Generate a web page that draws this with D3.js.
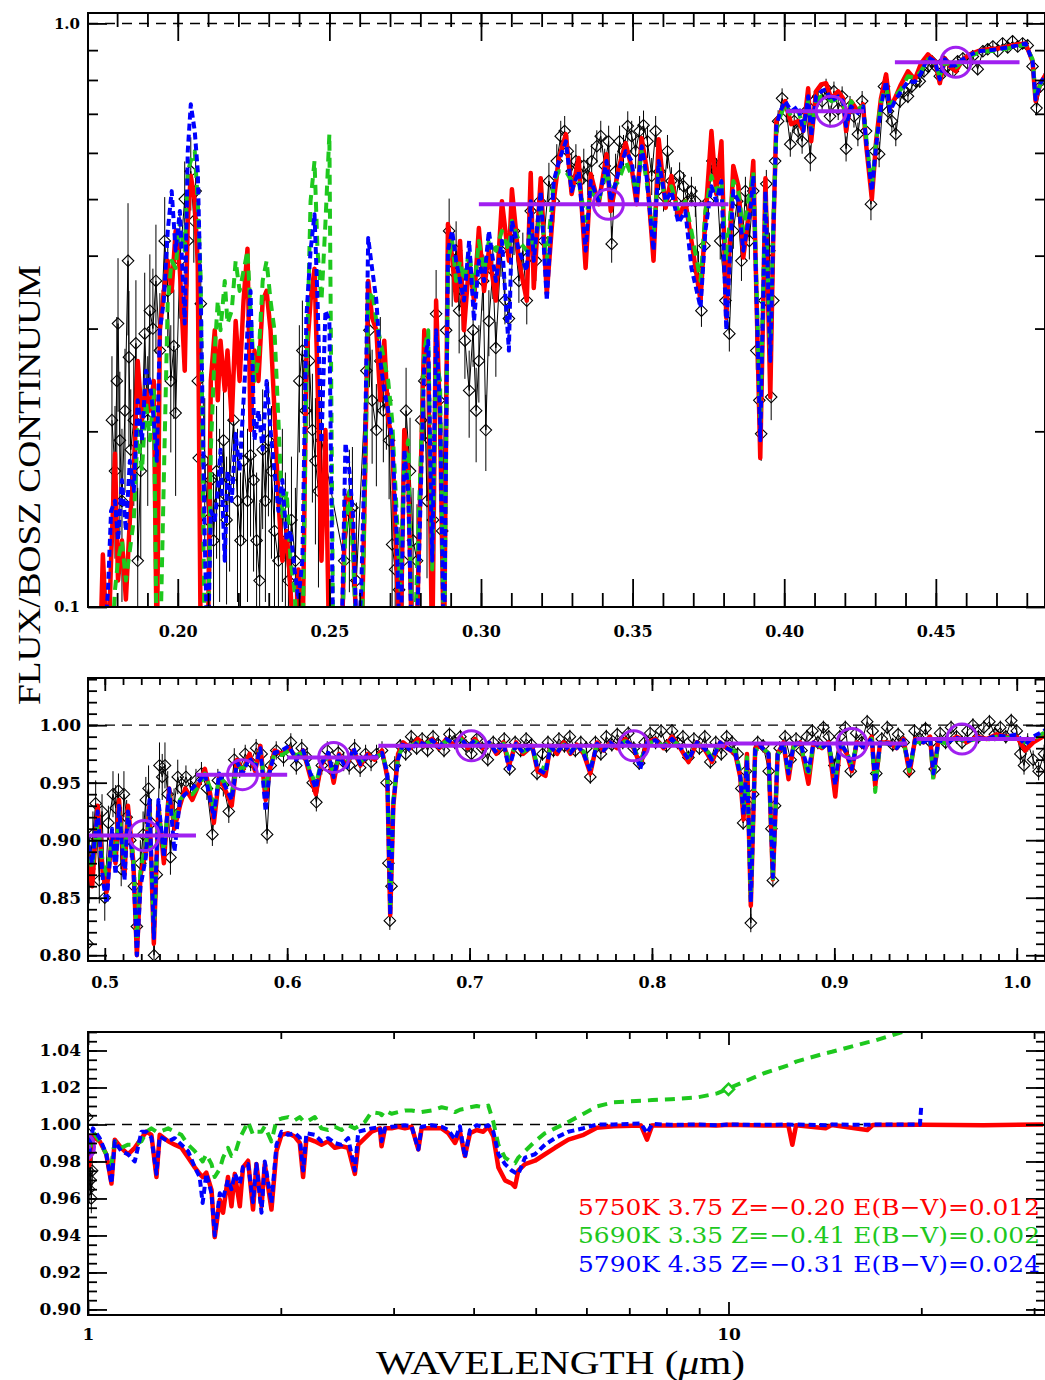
<!DOCTYPE html>
<html>
<head>
<meta charset="utf-8">
<script src="https://cdn.jsdelivr.net/npm/d3@7"></script>
<style>
  body { margin: 0; background: #fff; }
</style>
</head>
<body>
<svg id="chart" width="1045" height="1380"></svg>
<script>
// ---- model spectra (wavelength in micron, flux / BOSZ continuum) ----
const modelWave = [
  // UV - blue
  0.1743,0.1753,0.1770,0.1780,0.1793,0.1803,0.1816,0.1829,0.1842,0.1855,
  0.1868,0.1882,0.1895,0.1908,0.1921,0.1931,0.1941,0.1954,0.1967,0.1980,
  0.1993,0.2007,0.2023,0.2033,0.2043,0.2056,0.2066,0.2076,0.2089,0.2099,
  0.2109,0.2122,0.2132,0.2141,0.2155,0.2164,0.2178,0.2191,0.2204,0.2217,
  0.2230,0.2240,0.2253,0.2266,0.2280,0.2293,0.2306,0.2319,0.2332,0.2345,
  0.2359,0.2372,0.2385,0.2398,0.2411,0.2424,0.2438,0.2451,0.2461,0.2474,
  0.2487,0.2500,0.2513,0.2526,0.2539,0.2553,0.2566,0.2579,0.2592,0.2605,
  0.2618,0.2628,0.2641,0.2655,0.2668,0.2681,0.2694,0.2707,0.2720,0.2734,
  0.2747,0.2760,0.2773,0.2786,0.2799,0.2813,0.2826,0.2839,0.2852,0.2865,
  0.2878,0.2891,0.2905,0.2918,0.2931,0.2944,0.2961,0.2977,0.2993,0.3010,
  0.3026,0.3049,0.3069,0.3092,0.3102,0.3125,0.3151,0.3164,0.3174,0.3197,
  0.3217,0.3240,0.3257,0.3280,0.3299,0.3322,0.3345,0.3362,0.3388,0.3414,
  0.3428,0.3454,0.3477,0.3497,0.3513,0.3530,0.3546,0.3569,0.3586,0.3609,
  0.3628,0.3651,0.3674,0.3694,0.3724,0.3740,0.3760,0.3776,0.3793,0.3809,
  0.3832,0.3849,0.3865,0.3888,0.3898,0.3921,0.3931,0.3938,0.3954,0.3964,
  0.3974,0.3987,0.4003,0.4023,0.4046,0.4063,0.4079,0.4089,0.4105,0.4122,
  0.4138,0.4155,0.4178,0.4194,0.4204,0.4220,0.4243,0.4260,0.4270,0.4289,
  0.4303,0.4319,0.4336,0.4349,0.4365,0.4385,0.4408,0.4431,0.4451,0.4474,
  0.4497,0.4513,0.4530,0.4546,0.4566,0.4589,0.4612,0.4638,0.4671,0.4704,
  0.4737,0.4770,0.4796,0.4819,0.4829,0.4845,0.4859,
  // optical
  0.4900,0.4931,0.4961,0.4990,0.5010,0.5040,0.5059,0.5078,0.5108,0.5127,
  0.5157,0.5176,0.5196,0.5225,0.5245,0.5269,0.5294,0.5324,0.5353,0.5382,
  0.5412,0.5441,0.5480,0.5520,0.5549,0.5578,0.5598,0.5627,0.5657,0.5696,
  0.5725,0.5755,0.5794,0.5824,0.5853,0.5882,0.5902,0.5931,0.5971,0.6010,
  0.6049,0.6088,0.6127,0.6157,0.6186,0.6225,0.6255,0.6284,0.6324,0.6363,
  0.6402,0.6441,0.6480,0.6520,0.6549,0.6565,0.6582,0.6608,0.6637,0.6676,
  0.6716,0.6755,0.6794,0.6833,0.6873,0.6912,0.6951,0.6990,0.7029,0.7069,
  0.7108,0.7147,0.7186,0.7216,0.7255,0.7294,0.7343,0.7373,0.7416,0.7443,
  0.7480,0.7516,0.7553,0.7589,0.7626,0.7662,0.7699,0.7735,0.7772,0.7808,
  0.7854,0.7900,0.7936,0.7973,0.8018,0.8064,0.8110,0.8155,0.8201,0.8247,
  0.8292,0.8329,0.8374,0.8411,0.8457,0.8484,0.8502,0.8521,0.8542,0.8566,
  0.8594,0.8639,0.8663,0.8689,0.8721,0.8749,0.8776,0.8813,0.8858,0.8886,
  0.8932,0.8968,0.9005,0.9032,0.9068,0.9096,0.9123,0.9169,0.9205,0.9224,
  0.9251,0.9297,0.9342,0.9379,0.9412,0.9443,0.9489,0.9525,0.9543,0.9571,
  0.9616,0.9671,0.9726,0.9781,0.9836,0.9890,0.9945,1.0000,1.0046,1.0091,
  // infrared
  1.018,1.043,1.068,1.088,1.101,1.127,1.155,1.183,1.212,1.234,
  1.256,1.279,1.294,1.334,1.366,1.399,1.433,1.468,1.494,1.510,
  1.530,1.559,1.577,1.606,1.625,1.654,1.675,1.695,1.726,1.746,
  1.778,1.810,1.832,1.866,1.888,1.934,1.969,2.005,2.054,2.103,
  2.141,2.167,2.193,2.260,2.315,2.371,2.429,2.488,2.548,2.610,
  2.642,2.706,2.772,2.856,2.873,2.908,2.978,3.051,3.125,3.201,
  3.279,3.318,3.439,3.565,3.652,3.741,3.808,3.877,3.948,4.044,
  4.141,4.217,4.294,4.372,4.478,4.587,4.642,4.698,4.812,4.987,
  5.170,5.359,5.623,5.94,6.23,6.62,7.30,7.46,7.60,8.13,
  8.93,9.60,10.0,11.36,12.40,12.58,12.75,14.18,14.50,16.47,
  16.80,19.90,20.00,20.10,25.0,31.0
];

// 5750K 3.75 Z=-0.20 E(B-V)=0.012
const fluxRed = [
  0.08,0.123,0.08,0.120,0.183,0.111,0.130,0.103,0.141,0.171,
  0.264,0.209,0.235,0.217,0.244,0.08,0.298,0.348,0.392,0.348,
  0.441,0.377,0.254,0.459,0.548,0.496,0.387,0.08,0.08,0.08,
  0.244,0.298,0.226,0.286,0.235,0.275,0.209,0.309,0.244,0.335,
  0.411,0.201,0.275,0.244,0.335,0.348,0.298,0.217,0.152,0.120,
  0.135,0.107,0.08,0.116,0.08,0.264,0.335,0.380,0.244,0.120,
  0.201,0.08,0.08,0.08,0.08,0.152,0.157,0.130,0.08,0.08,
  0.171,0.362,0.313,0.298,0.226,0.286,0.209,0.195,0.123,0.08,
  0.201,0.171,0.08,0.08,0.152,0.298,0.264,0.08,0.335,0.209,
  0.08,0.453,0.397,0.335,0.424,0.298,0.392,0.335,0.446,0.348,
  0.408,0.335,0.496,0.392,0.520,0.392,0.335,0.554,0.352,0.543,
  0.344,0.496,0.588,0.646,0.510,0.588,0.381,0.552,0.490,0.597,
  0.477,0.565,0.624,0.565,0.490,0.636,0.565,0.392,0.633,0.483,
  0.548,0.464,0.496,0.424,0.335,0.464,0.654,0.510,0.628,0.313,
  0.570,0.526,0.397,0.496,0.581,0.180,0.335,0.543,0.229,0.436,
  0.680,0.699,0.736,0.672,0.680,0.654,0.774,0.628,0.765,0.786,
  0.790,0.744,0.765,0.744,0.654,0.736,0.707,0.727,0.621,0.500,
  0.628,0.744,0.818,0.716,0.744,0.786,0.828,0.802,0.854,0.885,
  0.861,0.790,0.871,0.844,0.828,0.868,0.885,0.896,0.903,0.906,
  0.913,0.921,0.924,0.861,0.736,0.790,0.812,
  0.890,0.860,0.930,0.870,0.855,0.905,0.880,0.935,0.870,0.930,
  0.880,0.800,0.870,0.890,0.930,0.810,0.930,0.880,0.945,0.910,
  0.930,0.945,0.935,0.950,0.962,0.940,0.915,0.955,0.945,0.930,
  0.970,0.960,0.975,0.960,0.982,0.935,0.960,0.978,0.975,0.980,
  0.972,0.978,0.955,0.940,0.965,0.975,0.950,0.975,0.965,0.978,
  0.965,0.975,0.970,0.978,0.955,0.835,0.930,0.975,0.985,0.980,
  0.988,0.982,0.988,0.980,0.988,0.983,0.990,0.980,0.988,0.980,
  0.985,0.975,0.985,0.965,0.985,0.975,0.982,0.960,0.956,0.982,
  0.975,0.985,0.975,0.983,0.975,0.958,0.985,0.978,0.985,0.980,
  0.988,0.980,0.965,0.985,0.988,0.980,0.990,0.980,0.968,0.985,
  0.978,0.968,0.985,0.980,0.975,0.955,0.918,0.975,0.843,0.980,
  0.982,0.975,0.866,0.975,0.985,0.953,0.982,0.985,0.949,0.985,
  0.980,0.985,0.938,0.985,0.975,0.960,0.985,0.980,0.990,0.947,
  0.985,0.985,0.980,0.988,0.958,0.988,0.985,0.990,0.955,0.988,
  0.985,0.990,0.985,0.990,0.988,0.992,0.990,0.990,0.978,0.985,
  0.9935,0.9909,0.9839,0.9681,0.9918,0.9874,0.9839,0.9874,0.9926,0.9961,
  0.9944,0.9716,0.9944,0.9909,0.9891,0.9874,0.9821,0.9768,0.9733,0.9716,
  0.9740,0.9646,0.9391,0.9593,0.9523,0.9716,0.9558,0.9733,0.9558,0.9768,
  0.9804,0.9540,0.9786,0.9558,0.9786,0.9540,0.9856,0.9944,0.9953,0.9935,
  0.9900,0.9716,0.9926,0.9909,0.9891,0.9909,0.9874,0.9882,0.9874,0.9733,
  0.9891,0.9926,0.9961,0.9979,0.9882,0.9979,0.9979,0.9988,0.9979,0.9988,
  0.9865,0.9979,0.9979,0.9979,0.9953,0.9900,0.9961,0.9830,0.9953,0.9970,
  0.9961,0.9988,0.9935,0.9768,0.9698,0.9681,0.9663,0.9751,0.9786,0.9804,
  0.9839,0.9874,0.9918,0.9944,0.9982,0.9990,0.9995,0.9918,0.9995,0.9995,
  0.9997,0.9995,0.9998,0.9995,0.9996,0.9890,0.9996,0.9980,0.9997,0.9970,
  0.9997,0.9998,1.0000,0.9998,0.9996,1.0000
];

// 5690K 3.35 Z=-0.41 E(B-V)=0.002
const fluxGreen = [
  0.08,0.08,0.08,0.08,0.107,0.120,0.130,0.111,0.125,0.141,
  0.201,0.171,0.226,0.193,0.235,0.08,0.08,0.165,0.335,0.392,
  0.381,0.459,0.408,0.558,0.581,0.604,0.496,0.362,0.08,0.08,
  0.186,0.275,0.335,0.298,0.362,0.306,0.322,0.392,0.348,0.377,
  0.408,0.322,0.244,0.264,0.362,0.392,0.335,0.298,0.209,0.141,
  0.158,0.120,0.107,0.08,0.08,0.244,0.496,0.581,0.408,0.335,
  0.455,0.646,0.08,0.08,0.08,0.135,0.158,0.120,0.08,0.08,
  0.165,0.335,0.348,0.309,0.286,0.264,0.244,0.209,0.152,0.107,
  0.178,0.193,0.08,0.103,0.165,0.275,0.298,0.116,0.264,0.244,
  0.08,0.392,0.424,0.362,0.392,0.362,0.408,0.348,0.424,0.377,
  0.424,0.408,0.441,0.408,0.459,0.424,0.408,0.441,0.408,0.477,
  0.392,0.537,0.558,0.558,0.537,0.537,0.459,0.516,0.496,0.558,
  0.516,0.537,0.581,0.548,0.516,0.604,0.537,0.436,0.570,0.496,
  0.526,0.477,0.496,0.441,0.362,0.477,0.548,0.516,0.537,0.392,
  0.537,0.516,0.441,0.516,0.558,0.209,0.362,0.496,0.275,0.459,
  0.654,0.693,0.727,0.693,0.707,0.667,0.736,0.654,0.736,0.750,
  0.750,0.736,0.741,0.736,0.680,0.736,0.713,0.721,0.641,0.526,
  0.628,0.736,0.780,0.721,0.750,0.771,0.812,0.806,0.828,0.868,
  0.854,0.812,0.861,0.848,0.841,0.861,0.878,0.889,0.896,0.899,
  0.906,0.913,0.921,0.868,0.750,0.786,0.812,
  0.900,0.875,0.915,0.880,0.870,0.900,0.885,0.925,0.885,0.920,
  0.885,0.815,0.875,0.895,0.925,0.820,0.925,0.890,0.940,0.915,
  0.935,0.940,0.940,0.948,0.958,0.945,0.925,0.955,0.950,0.940,
  0.965,0.962,0.970,0.965,0.978,0.945,0.962,0.975,0.974,0.978,
  0.974,0.976,0.960,0.948,0.968,0.972,0.958,0.972,0.968,0.975,
  0.968,0.973,0.972,0.975,0.960,0.840,0.935,0.972,0.983,0.982,
  0.985,0.984,0.986,0.982,0.986,0.985,0.988,0.982,0.986,0.982,
  0.984,0.978,0.984,0.970,0.983,0.977,0.981,0.965,0.962,0.980,
  0.977,0.983,0.977,0.982,0.977,0.963,0.983,0.979,0.983,0.981,
  0.986,0.981,0.968,0.984,0.986,0.982,0.987,0.982,0.972,0.984,
  0.980,0.972,0.984,0.981,0.977,0.960,0.925,0.972,0.848,0.978,
  0.981,0.976,0.864,0.974,0.983,0.958,0.981,0.984,0.955,0.984,
  0.981,0.984,0.952,0.984,0.977,0.965,0.984,0.981,0.988,0.942,
  0.984,0.984,0.981,0.986,0.960,0.986,0.984,0.988,0.952,0.986,
  0.984,0.988,0.986,0.988,0.987,0.990,0.989,0.990,0.985,0.988,
  0.9961,0.9909,0.9839,0.9786,0.9909,0.9874,0.9891,0.9891,0.9909,0.9961,
  0.9979,0.9961,0.9961,0.9979,0.9961,0.9944,0.9891,0.9856,0.9821,0.9800,
  0.9839,0.9786,0.9716,0.9760,0.9821,0.9874,0.9830,0.9839,0.9926,0.9960,
  1.0014,0.9944,0.9961,0.9961,0.9990,0.9909,1.0023,1.0032,1.0040,1.0023,
  1.0040,1.0020,1.0014,1.0040,0.9979,0.9970,0.9988,0.9970,0.9996,0.9979,
  0.9990,1.0014,1.0067,1.0060,1.0050,1.0076,1.0058,1.0067,1.0076,1.0076,
  1.0070,1.0067,1.0076,1.0093,1.0085,1.0067,1.0080,1.0085,1.0093,1.0100,
  1.0093,1.0102,1.0014,0.9891,0.9821,0.9795,0.9790,0.9821,0.9856,0.9909,
  0.9953,0.9979,1.0014,1.0058,1.0098,1.0120,1.0128,1.0130,1.0132,1.0137,
  1.0146,1.0168,1.0195,1.0277,1.0320,1.0330,1.0340,1.0385,1.0393,1.0444,
  1.0450,1.0530,1.0535,1.0537,1.0650,1.0800
];

// 5790K 4.35 Z=-0.31 E(B-V)=0.024
const fluxBlue = [
  0.08,0.08,0.107,0.146,0.152,0.130,0.165,0.135,0.178,0.158,
  0.226,0.193,0.254,0.244,0.209,0.178,0.298,0.335,0.441,0.516,
  0.408,0.477,0.306,0.604,0.727,0.654,0.558,0.335,0.130,0.08,
  0.146,0.141,0.158,0.186,0.120,0.171,0.152,0.198,0.171,0.226,
  0.298,0.348,0.193,0.217,0.186,0.244,0.201,0.171,0.146,0.165,
  0.130,0.135,0.116,0.103,0.120,0.313,0.408,0.471,0.335,0.191,
  0.322,0.309,0.08,0.08,0.08,0.191,0.171,0.141,0.08,0.107,
  0.195,0.429,0.380,0.335,0.264,0.235,0.217,0.193,0.141,0.08,
  0.186,0.158,0.08,0.08,0.141,0.264,0.286,0.120,0.298,0.217,
  0.08,0.408,0.441,0.392,0.362,0.335,0.424,0.309,0.392,0.362,
  0.441,0.362,0.424,0.275,0.459,0.408,0.377,0.496,0.392,0.516,
  0.335,0.537,0.581,0.628,0.516,0.558,0.408,0.537,0.496,0.581,
  0.496,0.558,0.604,0.581,0.496,0.616,0.548,0.408,0.581,0.496,
  0.516,0.455,0.477,0.381,0.326,0.441,0.526,0.496,0.537,0.298,
  0.516,0.496,0.408,0.477,0.548,0.193,0.348,0.516,0.264,0.436,
  0.667,0.707,0.736,0.707,0.721,0.654,0.750,0.641,0.750,0.765,
  0.771,0.736,0.750,0.736,0.667,0.721,0.702,0.721,0.628,0.516,
  0.616,0.721,0.796,0.707,0.736,0.765,0.796,0.794,0.821,0.875,
  0.861,0.802,0.868,0.846,0.848,0.868,0.882,0.896,0.899,0.903,
  0.910,0.917,0.924,0.861,0.741,0.790,0.812,
  0.905,0.880,0.925,0.865,0.845,0.910,0.870,0.930,0.865,0.925,
  0.875,0.800,0.860,0.885,0.935,0.815,0.935,0.885,0.945,0.890,
  0.935,0.940,0.945,0.952,0.958,0.935,0.920,0.958,0.948,0.935,
  0.968,0.958,0.972,0.962,0.980,0.925,0.958,0.976,0.978,0.982,
  0.970,0.978,0.958,0.945,0.966,0.976,0.955,0.974,0.962,0.980,
  0.966,0.974,0.972,0.976,0.958,0.835,0.932,0.970,0.985,0.978,
  0.986,0.983,0.987,0.981,0.988,0.984,0.989,0.981,0.987,0.980,
  0.985,0.976,0.985,0.962,0.984,0.976,0.982,0.962,0.958,0.981,
  0.976,0.984,0.976,0.983,0.975,0.960,0.984,0.978,0.985,0.980,
  0.987,0.981,0.962,0.985,0.987,0.981,0.988,0.981,0.970,0.985,
  0.979,0.970,0.985,0.980,0.976,0.956,0.922,0.970,0.846,0.979,
  0.982,0.975,0.868,0.975,0.984,0.958,0.982,0.985,0.960,0.985,
  0.980,0.985,0.948,0.985,0.976,0.962,0.985,0.980,0.989,0.950,
  0.985,0.984,0.980,0.987,0.962,0.987,0.985,0.989,0.958,0.987,
  0.985,0.989,0.986,0.989,0.988,0.991,0.990,0.992,0.983,0.990,
  0.9979,0.9926,0.9839,0.9681,0.9909,0.9856,0.9839,0.9800,0.9961,0.9961,
  0.9930,0.9733,0.9935,0.9909,0.9926,0.9891,0.9856,0.9768,0.9716,0.9575,
  0.9733,0.9628,0.9400,0.9628,0.9600,0.9700,0.9650,0.9733,0.9680,0.9770,
  0.9786,0.9580,0.9786,0.9523,0.9800,0.9575,0.9891,0.9961,0.9944,0.9953,
  0.9930,0.9751,0.9953,0.9944,0.9909,0.9926,0.9900,0.9890,0.9926,0.9751,
  0.9961,0.9970,0.9979,0.9985,0.9909,0.9979,0.9988,0.9990,0.9996,0.9990,
  0.9865,0.9988,0.9996,0.9988,0.9970,0.9918,0.9990,0.9821,0.9970,0.9996,
  0.9985,0.9996,0.9961,0.9839,0.9786,0.9751,0.9740,0.9733,0.9821,0.9839,
  0.9891,0.9926,0.9961,0.9980,1.0000,1.0000,1.0005,0.9953,1.0003,0.9998,
  1.0000,0.9996,1.0000,0.9998,1.0000,0.9998,1.0000,0.9996,1.0000,0.9998,
  1.0000,1.0000,1.0102,null,null,null
];

// ---- observed spectrum: [wavelength, flux, error] ----
const obsPoints = [
  [0.1783,0.209,0.06],[0.1793,0.171,0.05],[0.1799,0.244,0.07],[0.1803,0.306,0.09],[0.1809,0.193,0.06],
  [0.1816,0.152,0.05],[0.1826,0.217,0.06],[0.1836,0.392,0.10],[0.1839,0.268,0.08],[0.1845,0.186,0.05],
  [0.1855,0.209,0.06],[0.1862,0.283,0.08],[0.1868,0.120,0.04],[0.1878,0.171,0.05],[0.1891,0.294,0.08],
  [0.1901,0.209,0.06],[0.1908,0.322,0.08],[0.1918,0.300,0.08],[0.1928,0.362,0.09],[0.1941,0.275,0.07],
  [0.1957,0.424,0.08],[0.1967,0.348,0.07],[0.1977,0.244,0.06],[0.1987,0.280,0.07],[0.1993,0.215,0.06],
  [0.2007,0.392,0.08],[0.2023,0.500,0.08],[0.2033,0.424,0.07],[0.2043,0.558,0.08],[0.2053,0.459,0.07],
  [0.2059,0.516,0.08],[0.2066,0.244,0.06],[0.2069,0.180,0.05],[0.2076,0.331,0.07],[0.2089,0.178,0.05],
  [0.2099,0.141,0.04],[0.2109,0.165,0.05],[0.2118,0.130,0.04],[0.2128,0.171,0.05],[0.2138,0.152,0.05],
  [0.2151,0.193,0.05],[0.2161,0.141,0.04],[0.2171,0.165,0.05],[0.2184,0.209,0.05],[0.2197,0.152,0.05],
  [0.2207,0.130,0.04],[0.2217,0.178,0.05],[0.2230,0.152,0.05],[0.2240,0.182,0.05],[0.2250,0.165,0.05],
  [0.2260,0.130,0.04],[0.2270,0.111,0.04],[0.2280,0.186,0.05],[0.2289,0.152,0.05],[0.2299,0.193,0.05],
  [0.2309,0.171,0.05],[0.2319,0.135,0.04],[0.2332,0.120,0.04],[0.2345,0.152,0.05],[0.2355,0.130,0.04],
  [0.2365,0.111,0.04],[0.2375,0.141,0.04],[0.2388,0.120,0.04],[0.2401,0.244,0.06],[0.2411,0.275,0.06],
  [0.2421,0.217,0.05],[0.2434,0.264,0.06],[0.2444,0.201,0.05],[0.2454,0.178,0.05],[0.2464,0.158,0.05],
  [0.2474,0.193,0.05],[0.2549,0.120,0.04],[0.2566,0.146,0.04],[0.2576,0.148,0.04],[0.2589,0.111,0.04],
  [0.2622,0.254,0.05],[0.2632,0.298,0.06],[0.2641,0.226,0.05],[0.2655,0.201,0.04],[0.2668,0.264,0.05],
  [0.2678,0.217,0.04],[0.2688,0.226,0.04],[0.2697,0.193,0.04],[0.2707,0.128,0.03],[0.2717,0.116,0.03],
  [0.2730,0.107,0.03],[0.2743,0.120,0.03],[0.2753,0.217,0.04],[0.2766,0.171,0.04],[0.2776,0.130,0.03],
  [0.2789,0.120,0.03],[0.2803,0.209,0.04],[0.2813,0.244,0.05],[0.2822,0.152,0.04],[0.2832,0.193,0.04],
  [0.2842,0.141,0.03],[0.2852,0.318,0.06],[0.2862,0.226,0.04],[0.2872,0.135,0.03],[0.2885,0.298,0.05],
  [0.2895,0.441,0.06],[0.2905,0.377,0.05],[0.2918,0.408,0.05],[0.2928,0.322,0.05],[0.2938,0.348,0.05],
  [0.2947,0.286,0.04],[0.2961,0.235,0.04],[0.2974,0.298,0.04],[0.2984,0.217,0.04],[0.2993,0.264,0.04],
  [0.3007,0.362,0.04],[0.3016,0.201,0.03],[0.3026,0.309,0.04],[0.3039,0.377,0.04],[0.3049,0.278,0.03],
  [0.3066,0.408,0.04],[0.3079,0.335,0.03],[0.3092,0.312,0.03],[0.3109,0.441,0.04],[0.3125,0.362,0.03],
  [0.3138,0.408,0.03],[0.3151,0.335,0.03],[0.3164,0.477,0.04],[0.3181,0.392,0.03],[0.3194,0.496,0.04],
  [0.3207,0.424,0.03],[0.3224,0.537,0.04],[0.3240,0.496,0.04],[0.3250,0.581,0.04],[0.3263,0.641,0.04],
  [0.3276,0.654,0.04],[0.3286,0.604,0.04],[0.3299,0.558,0.04],[0.3313,0.581,0.04],[0.3326,0.537,0.04],
  [0.3339,0.570,0.04],[0.3352,0.548,0.04],[0.3365,0.581,0.04],[0.3382,0.616,0.04],[0.3395,0.641,0.04],
  [0.3408,0.570,0.04],[0.3421,0.628,0.04],[0.3431,0.419,0.03],[0.3444,0.558,0.04],[0.3457,0.628,0.04],
  [0.3470,0.604,0.04],[0.3484,0.667,0.04],[0.3497,0.641,0.04],[0.3510,0.604,0.04],[0.3523,0.654,0.04],
  [0.3536,0.669,0.04],[0.3549,0.628,0.04],[0.3563,0.548,0.04],[0.3576,0.654,0.04],[0.3589,0.558,0.04],
  [0.3602,0.506,0.03],[0.3615,0.604,0.04],[0.3628,0.537,0.03],[0.3641,0.496,0.03],[0.3655,0.548,0.03],
  [0.3668,0.526,0.03],[0.3681,0.496,0.03],[0.3694,0.516,0.03],[0.3707,0.496,0.03],[0.3717,0.377,0.03],
  [0.3727,0.322,0.02],[0.3737,0.416,0.03],[0.3750,0.496,0.03],[0.3763,0.581,0.03],[0.3776,0.558,0.03],
  [0.3789,0.424,0.03],[0.3806,0.335,0.02],[0.3819,0.294,0.02],[0.3832,0.441,0.03],[0.3845,0.496,0.03],
  [0.3859,0.392,0.03],[0.3872,0.516,0.03],[0.3885,0.424,0.03],[0.3898,0.516,0.03],[0.3908,0.275,0.02],
  [0.3918,0.226,0.02],[0.3924,0.198,0.02],[0.3934,0.335,0.02],[0.3941,0.531,0.03],[0.3951,0.408,0.03],
  [0.3957,0.229,0.02],[0.3964,0.335,0.02],[0.3970,0.581,0.03],[0.3980,0.680,0.03],[0.3993,0.744,0.03],
  [0.4007,0.707,0.03],[0.4020,0.621,0.03],[0.4033,0.680,0.03],[0.4046,0.654,0.03],[0.4059,0.628,0.03],
  [0.4072,0.707,0.03],[0.4086,0.588,0.03],[0.4099,0.736,0.03],[0.4112,0.750,0.03],[0.4125,0.736,0.03],
  [0.4138,0.774,0.03],[0.4151,0.693,0.03],[0.4164,0.765,0.03],[0.4178,0.713,0.03],[0.4191,0.750,0.03],
  [0.4204,0.610,0.03],[0.4217,0.721,0.03],[0.4230,0.693,0.03],[0.4243,0.646,0.03],[0.4257,0.736,0.03],
  [0.4270,0.654,0.03],[0.4286,0.490,0.03],[0.4299,0.604,0.03],[0.4313,0.597,0.03],[0.4329,0.780,0.03],
  [0.4342,0.707,0.03],[0.4355,0.680,0.03],[0.4368,0.646,0.03],[0.4382,0.736,0.02],[0.4395,0.765,0.02],
  [0.4408,0.750,0.02],[0.4421,0.780,0.02],[0.4434,0.796,0.02],[0.4447,0.796,0.02],[0.4461,0.828,0.02],
  [0.4474,0.844,0.02],[0.4487,0.861,0.02],[0.4500,0.844,0.02],[0.4513,0.812,0.02],[0.4526,0.861,0.02],
  [0.4539,0.844,0.02],[0.4556,0.828,0.02],[0.4572,0.861,0.02],[0.4589,0.871,0.02],[0.4605,0.854,0.02],
  [0.4622,0.878,0.02],[0.4638,0.835,0.02],[0.4655,0.896,0.02],[0.4671,0.903,0.02],[0.4688,0.913,0.02],
  [0.4704,0.896,0.02],[0.4720,0.924,0.02],[0.4737,0.910,0.02],[0.4753,0.932,0.02],[0.4770,0.913,0.02],
  [0.4786,0.924,0.02],[0.4803,0.917,0.02],[0.4819,0.844,0.02],[0.4832,0.716,0.02],[0.4845,0.780,0.02],
  [0.4905,0.810,0.04],[0.4915,0.875,0.03],[0.4935,0.905,0.02],[0.4950,0.932,0.02],[0.4970,0.865,0.02],
  [0.4985,0.925,0.015],[0.5000,0.850,0.02],[0.5020,0.915,0.015],[0.5045,0.940,0.02],[0.5060,0.928,0.02],
  [0.5075,0.943,0.015],[0.5090,0.875,0.015],[0.5105,0.940,0.02],[0.5120,0.920,0.015],[0.5140,0.900,0.015],
  [0.5160,0.860,0.02],[0.5176,0.825,0.02],[0.5195,0.880,0.02],[0.5210,0.905,0.02],[0.5225,0.935,0.02],
  [0.5240,0.945,0.02],[0.5255,0.915,0.02],[0.5270,0.800,0.02],[0.5285,0.870,0.02],[0.5300,0.965,0.02],
  [0.5315,0.955,0.02],[0.5330,0.965,0.02],[0.5345,0.940,0.02],[0.5360,0.885,0.015],[0.5380,0.930,0.015],
  [0.5400,0.955,0.015],[0.5420,0.945,0.01],[0.5445,0.955,0.01],[0.5470,0.945,0.01],[0.5500,0.952,0.01],
  [0.5530,0.958,0.01],[0.5560,0.945,0.01],[0.5590,0.905,0.01],[0.5620,0.952,0.01],[0.5650,0.948,0.01],
  [0.5680,0.925,0.01],[0.5710,0.970,0.01],[0.5740,0.962,0.008],[0.5770,0.975,0.008],[0.5800,0.968,0.008],
  [0.5830,0.980,0.008],[0.5860,0.975,0.008],[0.5890,0.905,0.008],[0.5910,0.965,0.008],[0.5940,0.978,0.008],
  [0.5980,0.972,0.008],[0.6020,0.985,0.008],[0.6050,0.965,0.008],[0.6080,0.980,0.008],[0.6110,0.972,0.008],
  [0.6140,0.950,0.008],[0.6160,0.933,0.008],[0.6190,0.965,0.008],[0.6220,0.978,0.008],[0.6250,0.960,0.008],
  [0.6280,0.976,0.008],[0.6310,0.968,0.008],[0.6340,0.965,0.008],[0.6370,0.980,0.008],[0.6400,0.963,0.008],
  [0.6430,0.975,0.008],[0.6460,0.968,0.008],[0.6490,0.975,0.008],[0.6520,0.978,0.008],[0.6545,0.950,0.008],
  [0.6555,0.880,0.008],[0.6563,0.830,0.008],[0.6572,0.860,0.008],[0.6590,0.965,0.008],[0.6620,0.982,0.006],
  [0.6650,0.975,0.006],[0.6680,0.990,0.006],[0.6710,0.980,0.006],[0.6740,0.988,0.006],[0.6770,0.978,0.006],
  [0.6800,0.990,0.006],[0.6830,0.983,0.006],[0.6860,0.978,0.006],[0.6890,0.992,0.006],[0.6920,0.985,0.006],
  [0.6950,0.990,0.006],[0.6980,0.982,0.006],[0.7010,0.975,0.006],[0.7040,0.988,0.006],[0.7070,0.980,0.006],
  [0.7100,0.970,0.006],[0.7130,0.985,0.006],[0.7160,0.980,0.006],[0.7190,0.988,0.006],[0.7220,0.962,0.006],
  [0.7250,0.985,0.006],[0.7280,0.978,0.006],[0.7310,0.988,0.006],[0.7340,0.983,0.006],[0.7370,0.958,0.006],
  [0.7400,0.975,0.006],[0.7430,0.985,0.006],[0.7460,0.978,0.006],[0.7490,0.988,0.006],[0.7520,0.982,0.006],
  [0.7550,0.990,0.006],[0.7580,0.978,0.006],[0.7610,0.985,0.006],[0.7640,0.980,0.006],[0.7662,0.955,0.006],
  [0.7690,0.985,0.006],[0.7720,0.975,0.006],[0.7750,0.990,0.006],[0.7780,0.983,0.006],[0.7810,0.992,0.006],
  [0.7840,0.985,0.006],[0.7870,0.993,0.006],[0.7900,0.980,0.006],[0.7930,0.967,0.006],[0.7960,0.985,0.006],
  [0.7990,0.993,0.006],[0.8020,0.985,0.006],[0.8050,0.995,0.006],[0.8080,0.982,0.006],[0.8110,0.995,0.006],
  [0.8140,0.985,0.006],[0.8170,0.990,0.006],[0.8200,0.972,0.006],[0.8230,0.988,0.006],[0.8260,0.980,0.006],
  [0.8290,0.990,0.006],[0.8320,0.968,0.006],[0.8350,0.985,0.006],[0.8380,0.975,0.006],[0.8410,0.990,0.006],
  [0.8440,0.985,0.006],[0.8470,0.975,0.006],[0.8490,0.945,0.006],[0.8500,0.915,0.006],[0.8515,0.960,0.006],
  [0.8530,0.930,0.006],[0.8542,0.828,0.008],[0.8555,0.940,0.006],[0.8580,0.985,0.006],[0.8610,0.982,0.006],
  [0.8640,0.960,0.006],[0.8655,0.910,0.006],[0.8663,0.865,0.006],[0.8675,0.930,0.006],[0.8700,0.980,0.006],
  [0.8730,0.990,0.006],[0.8760,0.970,0.006],[0.8790,0.988,0.006],[0.8820,0.978,0.006],[0.8850,0.990,0.006],
  [0.8880,0.995,0.006],[0.8910,0.985,0.006],[0.8940,0.998,0.006],[0.8970,0.990,0.006],[0.9000,0.965,0.006],
  [0.9030,0.990,0.006],[0.9060,0.998,0.006],[0.9090,0.960,0.006],[0.9120,0.993,0.006],[0.9150,0.985,0.006],
  [0.9180,1.003,0.006],[0.9210,0.995,0.006],[0.9230,0.958,0.006],[0.9260,0.988,0.006],[0.9290,0.998,0.006],
  [0.9320,0.983,0.006],[0.9350,0.992,0.006],[0.9380,0.985,0.006],[0.9410,0.960,0.006],[0.9440,0.995,0.006],
  [0.9470,0.988,0.006],[0.9500,0.997,0.006],[0.9530,0.985,0.006],[0.9550,0.962,0.006],[0.9580,0.993,0.006],
  [0.9610,0.985,0.006],[0.9640,0.998,0.006],[0.9670,0.990,0.006],[0.9700,0.985,0.006],[0.9730,0.995,0.006],
  [0.9760,1.000,0.006],[0.9790,0.990,0.006],[0.9820,0.998,0.006],[0.9850,1.003,0.006],[0.9880,0.992,0.006],
  [0.9910,0.998,0.006],[0.9940,0.990,0.006],[0.9970,1.004,0.006],[1.0000,0.995,0.006],[1.0020,0.975,0.008],
  [1.0040,0.965,0.008],[1.0060,0.985,0.008],[1.0090,0.970,0.008],[1.0120,0.960,0.008],[1.0150,0.975,0.008]
];

// ---- binned photometry (purple bars + circles) ----
const binLo   = [0.2993, 0.4006, 0.4365, 0.486, 0.550, 0.600, 0.650, 0.750, 0.840, 0.945];
const binHi   = [0.3816, 0.4263, 0.4776, 0.550, 0.600, 0.650, 0.750, 0.840, 0.940, 1.010];
const binMid  = [0.342,  0.4155, 0.4566, 0.5216, 0.5755, 0.6255, 0.701, 0.790, 0.9096, 0.970];
const binFlux = [0.490,  0.707,  0.858,  0.904, 0.957, 0.972, 0.982, 0.982, 0.984, 0.988];

// green model photometric point in the IR
const photWave = [10.0];
const photFlux = [1.019];

// ---- ticks ----
const p1XMajor = [0.20, 0.25, 0.30, 0.35, 0.40, 0.45];
const p1YMajor = [0.1, 1.0];
const p1YMinor = [0.2, 0.3, 0.4, 0.5, 0.6, 0.7, 0.8, 0.9];
const p2XMajor = [0.5, 0.6, 0.7, 0.8, 0.9, 1.0];
const p2YMajor = [0.80, 0.85, 0.90, 0.95, 1.00];
const p3XMajor = [1, 10];
const p3XMinor = [2, 3, 4, 5, 6, 7, 8, 9, 20, 30];
const p3YMajor = [0.90, 0.92, 0.94, 0.96, 0.98, 1.00, 1.02, 1.04];

const legendLabels = [
  '5750K 3.75 Z=\u22120.20 E(B\u2212V)=0.012',
  '5690K 3.35 Z=\u22120.41 E(B\u2212V)=0.002',
  '5790K 4.35 Z=\u22120.31 E(B\u2212V)=0.024'
];

const RED = '#ff0000', GREEN = '#1ec81e', BLUE = '#0000ff', PURPLE = '#a020f0';
const LABEL_FONT = "'DejaVu Serif', serif";
const TITLE_FONT = "'Liberation Serif', 'Times New Roman', serif";

if (fluxRed.length !== modelWave.length || fluxGreen.length !== modelWave.length || fluxBlue.length !== modelWave.length) {
  console.error('length mismatch', modelWave.length, fluxRed.length, fluxGreen.length, fluxBlue.length);
}

const svg = d3.select('#chart');
const defs = svg.append('defs');

const left = 88, right = 1045;

const panels = [
  {
    x: d3.scaleLinear().domain([0.1704, 0.4860]).range([left, right]),
    y: d3.scaleLog().domain([0.1, 1.042]).range([607, 13]),
    xMajor: p1XMajor, xMinor: d3.range(18, 49).map(d => d / 100),
    xFmt: d => d.toFixed(2), xLen: [28, 14], xPad: 19, xFont: 16,
    yMajor: p1YMajor, yMinor: p1YMinor, yFmt: d => d.toFixed(1), yLen: [19, 10], yPad: 8, yFont: 15
  },
  {
    x: d3.scaleLinear().domain([0.4908, 1.0155]).range([left, right]),
    y: d3.scaleLinear().domain([0.795, 1.041]).range([961, 678]),
    xMajor: p2XMajor, xMinor: d3.range(50, 102).map(d => d / 100),
    xFmt: d => d.toFixed(1), xLen: [13, 7], xPad: 16, xFont: 16,
    yMajor: p2YMajor, yMinor: d3.range(80, 105).map(d => d / 100), yFmt: d => d.toFixed(2), yLen: [19, 9], yPad: 7, yFont: 17
  },
  {
    x: d3.scaleLog().domain([1, 31.2]).range([left, right]),
    y: d3.scaleLinear().domain([0.897, 1.05]).range([1315, 1032]),
    xMajor: p3XMajor, xMinor: p3XMinor,
    xFmt: d => String(d), xLen: [13, 7], xPad: 13, xFont: 17,
    yMajor: p3YMajor, yMinor: d3.range(180, 211).map(d => d / 200), yFmt: d => d.toFixed(2), yLen: [19, 9], yPad: 7, yFont: 17
  }
];

// indices of points inside [lo, hi] plus one neighbour on each side
function sliceRange(arr, acc, lo, hi) {
  let a = 0, b = arr.length - 1;
  while (a < arr.length && acc(arr[a]) < lo) a++;
  while (b >= 0 && acc(arr[b]) > hi) b--;
  return arr.slice(Math.max(0, a - 1), Math.min(arr.length, b + 2));
}

const modelRows = modelWave.map((w, i) => ({ w, r: fluxRed[i], g: fluxGreen[i], b: fluxBlue[i] }));

function drawAxis(gen, transform, values, len, fmt, pad, size) {
  const a = gen.tickValues(values).tickSize(-len).tickPadding(pad)
    .tickFormat(fmt ? fmt : () => '');
  const g = svg.append('g').attr('transform', transform).call(a);
  g.select('.domain').remove();
  g.selectAll('.tick line').attr('stroke', '#000').attr('stroke-width', 1.8);
  g.selectAll('.tick text')
    .attr('fill', '#000')
    .attr('font-family', LABEL_FONT)
    .attr('font-weight', 'bold')
    .attr('font-size', size);
  return g;
}

panels.forEach((p, i) => {
  const [x0, x1] = p.x.range();
  const [yb, yt] = p.y.range();
  const [lo, hi] = p.x.domain();

  defs.append('clipPath').attr('id', 'clip' + i)
    .append('rect').attr('x', x0).attr('y', yt).attr('width', x1 - x0).attr('height', yb - yt);

  const plot = svg.append('g').attr('clip-path', `url(#clip${i})`);

  // unity line
  plot.append('line')
    .attr('x1', x0).attr('x2', x1)
    .attr('y1', p.y(1)).attr('y2', p.y(1))
    .attr('stroke', '#000').attr('stroke-width', 1.4)
    .attr('stroke-dasharray', '10,7');

  // observed spectrum
  const obs = sliceRange(obsPoints, d => d[0], lo, hi);
  plot.append('g').selectAll('line').data(obs).join('line')
    .attr('x1', d => p.x(d[0])).attr('x2', d => p.x(d[0]))
    .attr('y1', d => p.y(d[1] - d[2])).attr('y2', d => p.y(d[1] + d[2]))
    .attr('stroke', '#000').attr('stroke-width', 1);
  plot.append('path').datum(obs)
    .attr('d', d3.line().x(d => p.x(d[0])).y(d => p.y(d[1])))
    .attr('fill', 'none').attr('stroke', '#000').attr('stroke-width', 1);
  plot.append('g').selectAll('path').data(obs).join('path')
    .attr('transform', d => `translate(${p.x(d[0])},${p.y(d[1])})`)
    .attr('d', d3.symbol(d3.symbolDiamond2, 85))
    .attr('fill', 'none').attr('stroke', '#000').attr('stroke-width', 1.1);

  // models
  const rows = sliceRange(modelRows, d => d.w, lo, hi);
  const series = [
    { key: 'r', color: RED, width: 4.5, dash: null },
    { key: 'g', color: GREEN, width: 4, dash: '10,7' },
    { key: 'b', color: BLUE, width: 4, dash: '7,4' }
  ];
  series.forEach(s => {
    const line = d3.line()
      .defined(d => d[s.key] != null)
      .x(d => p.x(d.w))
      .y(d => p.y(d[s.key]));
    plot.append('path').datum(rows)
      .attr('d', line)
      .attr('fill', 'none')
      .attr('stroke', s.color)
      .attr('stroke-width', s.width)
      .attr('stroke-linejoin', 'round')
      .attr('stroke-dasharray', s.dash);
  });

  // green photometric marker
  plot.append('g').selectAll('path').data(photWave.map((w, k) => [w, photFlux[k]])).join('path')
    .attr('transform', d => `translate(${p.x(d[0])},${p.y(d[1])})`)
    .attr('d', d3.symbol(d3.symbolDiamond2, 80))
    .attr('fill', 'none').attr('stroke', GREEN).attr('stroke-width', 2.5);

  // binned fluxes
  const bins = binLo.map((l, k) => ({ lo: l, hi: binHi[k], mid: binMid[k], f: binFlux[k] }));
  plot.append('g').selectAll('line').data(bins).join('line')
    .attr('x1', d => p.x(d.lo)).attr('x2', d => p.x(d.hi))
    .attr('y1', d => p.y(d.f)).attr('y2', d => p.y(d.f))
    .attr('stroke', PURPLE).attr('stroke-width', 4);
  plot.append('g').selectAll('circle').data(bins).join('circle')
    .attr('cx', d => p.x(d.mid)).attr('cy', d => p.y(d.f)).attr('r', 15)
    .attr('fill', 'none').attr('stroke', PURPLE).attr('stroke-width', 3);

  // axes: ticks point inward on all four sides
  drawAxis(d3.axisBottom(p.x), `translate(0,${yb})`, p.xMinor, p.xLen[1], null, 0, 0);
  drawAxis(d3.axisBottom(p.x), `translate(0,${yb})`, p.xMajor, p.xLen[0], p.xFmt, p.xPad, p.xFont);
  drawAxis(d3.axisTop(p.x), `translate(0,${yt})`, p.xMinor, p.xLen[1], null, 0, 0);
  drawAxis(d3.axisTop(p.x), `translate(0,${yt})`, p.xMajor, p.xLen[0], null, 0, 0);
  drawAxis(d3.axisLeft(p.y), `translate(${x0},0)`, p.yMinor, p.yLen[1], null, 0, 0);
  drawAxis(d3.axisLeft(p.y), `translate(${x0},0)`, p.yMajor, p.yLen[0], p.yFmt, p.yPad, p.yFont);
  drawAxis(d3.axisRight(p.y), `translate(${x1},0)`, p.yMinor, p.yLen[1], null, 0, 0);
  drawAxis(d3.axisRight(p.y), `translate(${x1},0)`, p.yMajor, p.yLen[0], null, 0, 0);

  svg.append('rect')
    .attr('x', x0).attr('y', yt).attr('width', x1 - x0).attr('height', yb - yt)
    .attr('fill', 'none').attr('stroke', '#000').attr('stroke-width', 2);
});

// axis titles
svg.append('text')
  .attr('transform', 'translate(40,485) rotate(-90)')
  .attr('text-anchor', 'middle')
  .attr('font-family', TITLE_FONT)
  .attr('font-size', 31)
  .attr('textLength', 440)
  .attr('lengthAdjust', 'spacingAndGlyphs')
  .text('FLUX/BOSZ CONTINUUM');

const xt = svg.append('text')
  .attr('x', 376).attr('y', 1374)
  .attr('font-family', TITLE_FONT)
  .attr('font-size', 33)
  .attr('textLength', 369)
  .attr('lengthAdjust', 'spacingAndGlyphs');
xt.append('tspan').text('WAVELENGTH (');
xt.append('tspan').attr('font-style', 'italic').text('\u03bc');
xt.append('tspan').text('m)');

// legend
const legendColors = [RED, GREEN, BLUE];
const legendY = [1215, 1243, 1272];
svg.append('g').selectAll('text').data(legendLabels).join('text')
  .attr('x', 578).attr('y', (d, i) => legendY[i])
  .attr('fill', (d, i) => legendColors[i])
  .attr('font-family', LABEL_FONT)
  .attr('font-size', 23)
  .attr('textLength', 462)
  .attr('lengthAdjust', 'spacingAndGlyphs')
  .text(d => d);
</script>
</body>
</html>
